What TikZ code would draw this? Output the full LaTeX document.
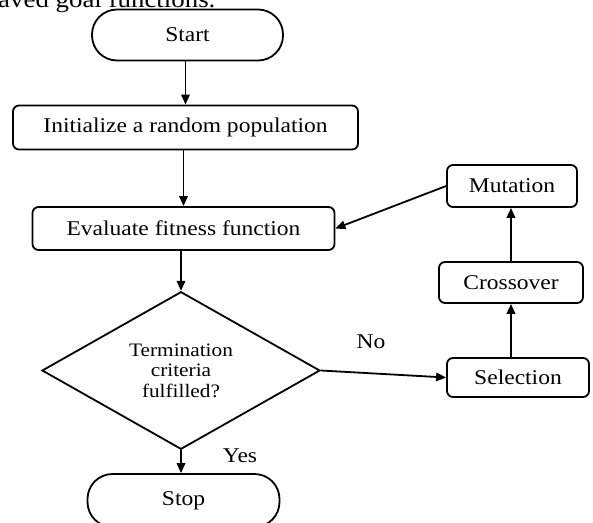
\documentclass[tikz,border=0pt]{standalone}
\usepackage{fontspec}
\setmainfont{Liberation Serif}[FakeStretch=1.12]
\usetikzlibrary{shapes.geometric,arrows.meta}
\tikzset{
  conn/.style={line width=1.8pt,-{Triangle[length=10pt,width=8.5pt]}},
  procbox/.style={draw,line width=1.8pt,rounded corners=6pt,inner sep=0pt,font=\fontsize{21}{24}\selectfont},
  termbox/.style={draw,line width=1.8pt,rounded corners=25pt,inner sep=0pt,font=\fontsize{21}{24}\selectfont},
  decbox/.style={draw,diamond,line width=1.8pt,inner sep=0pt,align=center,font=\fontsize{19}{20.5}\selectfont},
  lbl/.style={inner sep=0pt,font=\fontsize{21}{24}\selectfont}
}
\begin{document}
\begin{tikzpicture}[x=1pt,y=-1pt]
\useasboundingbox (0,0) rectangle (593,522);
\node[inner sep=0pt,anchor=base west,font=\fontsize{24}{28}\selectfont] (cap) at (-2,8) {aved goal functions.};
\node[termbox,minimum width=191pt,minimum height=51pt] (start) at (187.5,35) {Start};
\node[procbox,minimum width=345pt,minimum height=44pt] (init) at (185.5,127.5) {Initialize a random population};
\node[procbox,minimum width=302pt,minimum height=43pt] (eval) at (183.5,228.5) {Evaluate fitness function};
\node[decbox,minimum width=278pt,minimum height=145pt] (dec) at (181,370.5) {Termination\\criteria\\fulfilled?};
\node[procbox,minimum width=142pt,minimum height=39pt] (sel) at (518,377.5) {Selection};
\node[procbox,minimum width=144pt,minimum height=41pt] (cross) at (511,282.5) {Crossover};
\node[procbox,minimum width=130pt,minimum height=42pt] (mut) at (512,186) {Mutation};
\node[termbox,minimum width=192pt,minimum height=53pt] (stop) at (183.5,500.5) {Stop};
\node[lbl] (no) at (371,342) {No};
\node[lbl] (yes) at (240,456) {Yes};
\draw[conn] (start.south -| init.north) -- (init.north);
\draw[conn] (init.south -| eval.north) -- (eval.north);
\draw[conn] (eval.south -| dec.north) -- (dec.north);
\draw[conn] (dec.east) -- (sel.west);
\draw[conn] (sel.north -| cross.south) -- (cross.south);
\draw[conn] (cross.north) -- (cross.north |- mut.south);
\draw[conn] (mut.west) -- (eval.east);
\draw[conn] (dec.south) -- (dec.south |- stop.north);
\end{tikzpicture}
\end{document}
